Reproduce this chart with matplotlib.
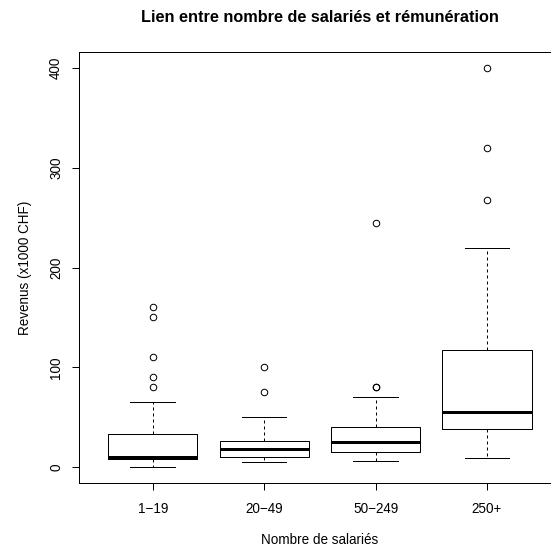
import matplotlib.pyplot as plt

plt.rcParams['font.family'] = ['Liberation Sans', 'DejaVu Sans']

groupes = ['1−19', '20−49', '50−249', '250+']
moustache_bas = [0, 5, 6, 9]
q1 = [8, 10, 15, 38]
mediane = [10, 18, 25, 55]
q3 = [33, 26, 40, 117]
moustache_haut = [65, 50, 70, 220]
aberrants = [
    [160, 150, 110, 90, 80],
    [100, 75],
    [245, 80, 80],
    [400, 320, 268],
]

stats = []
for i, g in enumerate(groupes):
    stats.append(dict(label=g, whislo=moustache_bas[i], q1=q1[i], med=mediane[i],
                      q3=q3[i], whishi=moustache_haut[i], fliers=aberrants[i]))

fig = plt.figure(figsize=(551 / 72, 551 / 72), dpi=72)
ax = fig.add_axes([79.2 / 551, 68 / 551, 481.3 / 551, 431 / 551])

ax.bxp(stats, positions=range(1, 5), widths=0.8, showcaps=True,
       boxprops=dict(color='black', linewidth=1),
       medianprops=dict(color='black', linewidth=3, solid_capstyle='butt'),
       whiskerprops=dict(color='black', linewidth=1, linestyle=(0, (3, 3))),
       capprops=dict(color='black', linewidth=1),
       capwidths=0.4,
       flierprops=dict(marker='o', markerfacecolor='none', markeredgecolor='black',
                       markersize=6.5, markeredgewidth=1))

ax.set_xlim(0.34, 4.66)
ax.set_ylim(-16, 416)
ax.set_xticks(range(1, 5))
ax.set_xticklabels(groupes, fontsize=13.5)
ax.set_yticks([0, 100, 200, 300, 400])
ax.set_yticklabels(['0', '100', '200', '300', '400'], fontsize=13.5, rotation=90, va='center')
ax.tick_params(direction='out', length=7, width=1)
ax.tick_params(axis='x', pad=12)
ax.tick_params(axis='y', pad=9)
for s in ax.spines.values():
    s.set_linewidth(1)

ax.set_xlabel('Nombre de salariés', fontsize=13.5, labelpad=17)
ax.set_ylabel('Revenus (x1000 CHF)', fontsize=13.5, labelpad=17)
fig.text(320 / 551, 1 - 18 / 551, 'Lien entre nombre de salariés et rémunération',
         fontsize=16.2, fontweight='bold', ha='center', va='center')

plt.savefig('out.png', dpi=72)
